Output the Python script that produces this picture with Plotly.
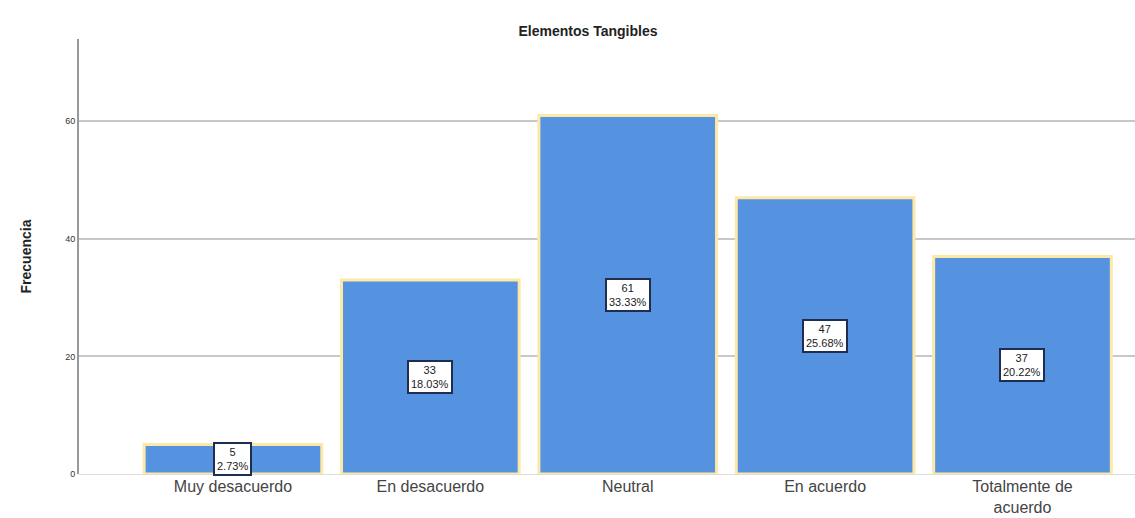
import plotly.graph_objects as go

categories = ["Muy desacuerdo", "En desacuerdo", "Neutral", "En acuerdo", "Totalmente de<br>acuerdo"]
counts = [5, 33, 61, 47, 37]
percents = ["2.73%", "18.03%", "33.33%", "25.68%", "20.22%"]
yticks = [0, 20, 40, 60]

fig = go.Figure()
fig.add_trace(go.Bar(
    x=list(range(len(categories))), y=counts,
    marker=dict(color="#5592e0", line=dict(color="#fde8a6", width=3)),
    width=0.9, hoverinfo="skip",
))

for i, (c, p) in enumerate(zip(counts, percents)):
    fig.add_annotation(
        x=i, y=c / 2, text=f"{c}<br>{p}", showarrow=False,
        font=dict(family="Arial", size=11, color="#222"),
        bgcolor="white", bordercolor="#1f2d50", borderwidth=2, borderpad=2,
    )

fig.update_layout(
    width=1135, height=518,
    margin=dict(l=79, r=0, t=39, b=44),
    paper_bgcolor="white", plot_bgcolor="white",
    showlegend=False,
    title=dict(text="<b>Elementos Tangibles</b>", x=0.482, xref="paper", y=0.94, yref="container",
               xanchor="center", yanchor="middle",
               font=dict(family="Arial", size=14, color="#222")),
    xaxis=dict(
        range=[-0.78, 4.57], tickmode="array", tickvals=list(range(len(categories))),
        ticktext=categories, showgrid=False, zeroline=False, showline=False, ticks="",
        ticklabelstandoff=1, automargin=False,
        tickfont=dict(family="Arial", size=16, color="#444"),
    ),
    yaxis=dict(
        range=[0, 74], tickvals=yticks, ticktext=[str(v) for v in yticks],
        showgrid=True, gridcolor="#c8c8c8", gridwidth=1.5,
        zeroline=True, zerolinecolor="#dddddd", zerolinewidth=1,
        showline=True, linecolor="#9a9a9a", linewidth=2,
        ticks="", tickfont=dict(family="Arial", size=9, color="#333"),
        title=dict(text="<b>Frecuencia</b>", font=dict(family="Arial", size=14, color="#222"), standoff=30),
    ),
)

fig.write_html("out.html")
